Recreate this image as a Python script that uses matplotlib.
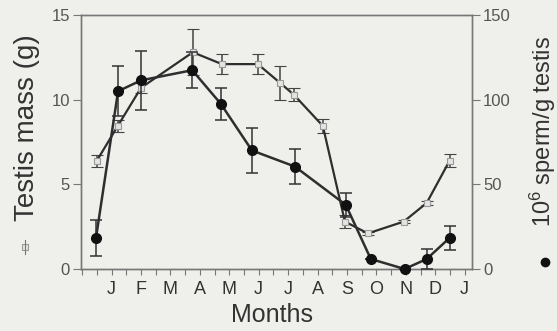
import matplotlib
matplotlib.use("Agg")
import matplotlib.pyplot as plt
from matplotlib.lines import Line2D

plt.rcParams['font.family'] = ['Liberation Sans', 'DejaVu Sans']

month_labels = ["J", "F", "M", "A", "M", "J", "J", "A", "S", "O", "N", "D", "J"]

# testis mass (g) - open squares, left axis
mass_x = [0.50, 1.21, 2.00, 3.76, 4.75, 5.97, 6.72, 7.19, 8.18, 8.93, 9.71, 10.93, 11.71, 12.49]
mass = [6.4, 8.45, 10.7, 12.8, 12.1, 12.1, 11.0, 10.3, 8.45, 2.8, 2.1, 2.8, 3.9, 6.4]
mass_err = [0.35, 0.35, 0.3, 1.35, 0.6, 0.6, 1.0, 0.4, 0.4, 0.4, 0.1, 0.1, 0.1, 0.4]

# 10^6 sperm / g testis - filled dots, right axis
sperm_x = [0.47, 1.22, 2.00, 3.74, 4.71, 5.77, 7.23, 8.96, 9.81, 10.96, 11.71, 12.49]
sperm = [18.4, 105, 111.4, 117.4, 97.6, 70, 60.5, 37.9, 5.9, 0, 5.9, 18.4]
sperm_err = [10.7, 14.8, 17.5, 10.7, 9.5, 13.3, 10.4, 7, 0, 0, 6, 7]

bg = '#efefec'
dark = '#2e2e2e'
grey = '#555555'

fig = plt.figure(figsize=(5.57, 3.31), dpi=100, facecolor=bg)
ax = fig.add_axes([81/557, 1-269/331, 391/557, 254/331])
ax.set_facecolor('none')
ax2 = ax.twinx()

ax.errorbar(mass_x, mass, yerr=mass_err, color=dark, lw=1.6, ecolor='#444444',
            elinewidth=1.1, capsize=4, capthick=1.1, marker='s', ms=5,
            mfc='#e4e4e2', mec='#999999', mew=0.8, zorder=2)
ax2.errorbar(sperm_x, sperm, yerr=sperm_err, color=dark, lw=1.8, ecolor='#333333',
             elinewidth=1.1, capsize=4, capthick=1.1, marker='o', ms=7,
             mfc='#111111', mec='#111111', zorder=3, clip_on=False)

ax.set_xlim(-0.04, 13.25)
ax.set_ylim(0, 15)
ax2.set_ylim(0, 150)

ax.set_xticks(range(1, 14))
ax.set_xticklabels(month_labels)
ax.set_xticks([i * 0.5 for i in range(0, 27)], minor=True)
ax.set_yticks([0, 5, 10, 15])
ax2.set_yticks([0, 50, 100, 150])

for a in (ax, ax2):
    for s in a.spines.values():
        s.set_color('#777777')
        s.set_linewidth(1.0)
ax.tick_params(axis='x', which='both', direction='out', length=4, width=0.8,
               color='#777777', labelsize=13, labelcolor='#333333', pad=5)
ax.tick_params(axis='y', direction='out', length=6, width=0.8, color='#777777',
               labelsize=12, labelcolor=grey, pad=2)
ax2.tick_params(axis='y', direction='out', length=6, width=0.8, color='#777777',
                labelsize=12, labelcolor=grey, pad=2)

fig.text(272/557, 1-315/331, "Months", ha='center', va='center', fontsize=18, color='#333333')
fig.text(27/557, 1-128/331, "Testis mass (g)", ha='center', va='center', rotation=90,
         fontsize=20, color='#333333')
fig.text(543/557, 1-131/331, r"$\mathregular{10^6}$ sperm/g testis", ha='center', va='center',
         rotation=90, fontsize=17, color='#333333')

# legend keys next to the axis titles
fig.add_artist(Line2D([25/557], [1-247/331], transform=fig.transFigure, marker='s', ms=4,
                      mfc='#e4e4e2', mec='#999999', mew=0.8, ls='none'))
fig.add_artist(Line2D([25/557, 25/557], [1-240/331, 1-254/331], transform=fig.transFigure,
                      color='#777777', lw=0.8))
fig.add_artist(Line2D([545/557], [1-262/331], transform=fig.transFigure, marker='o', ms=6,
                      mfc='#111111', mec='#111111', ls='none'))

fig.savefig("out.png", dpi=100, facecolor=bg)
